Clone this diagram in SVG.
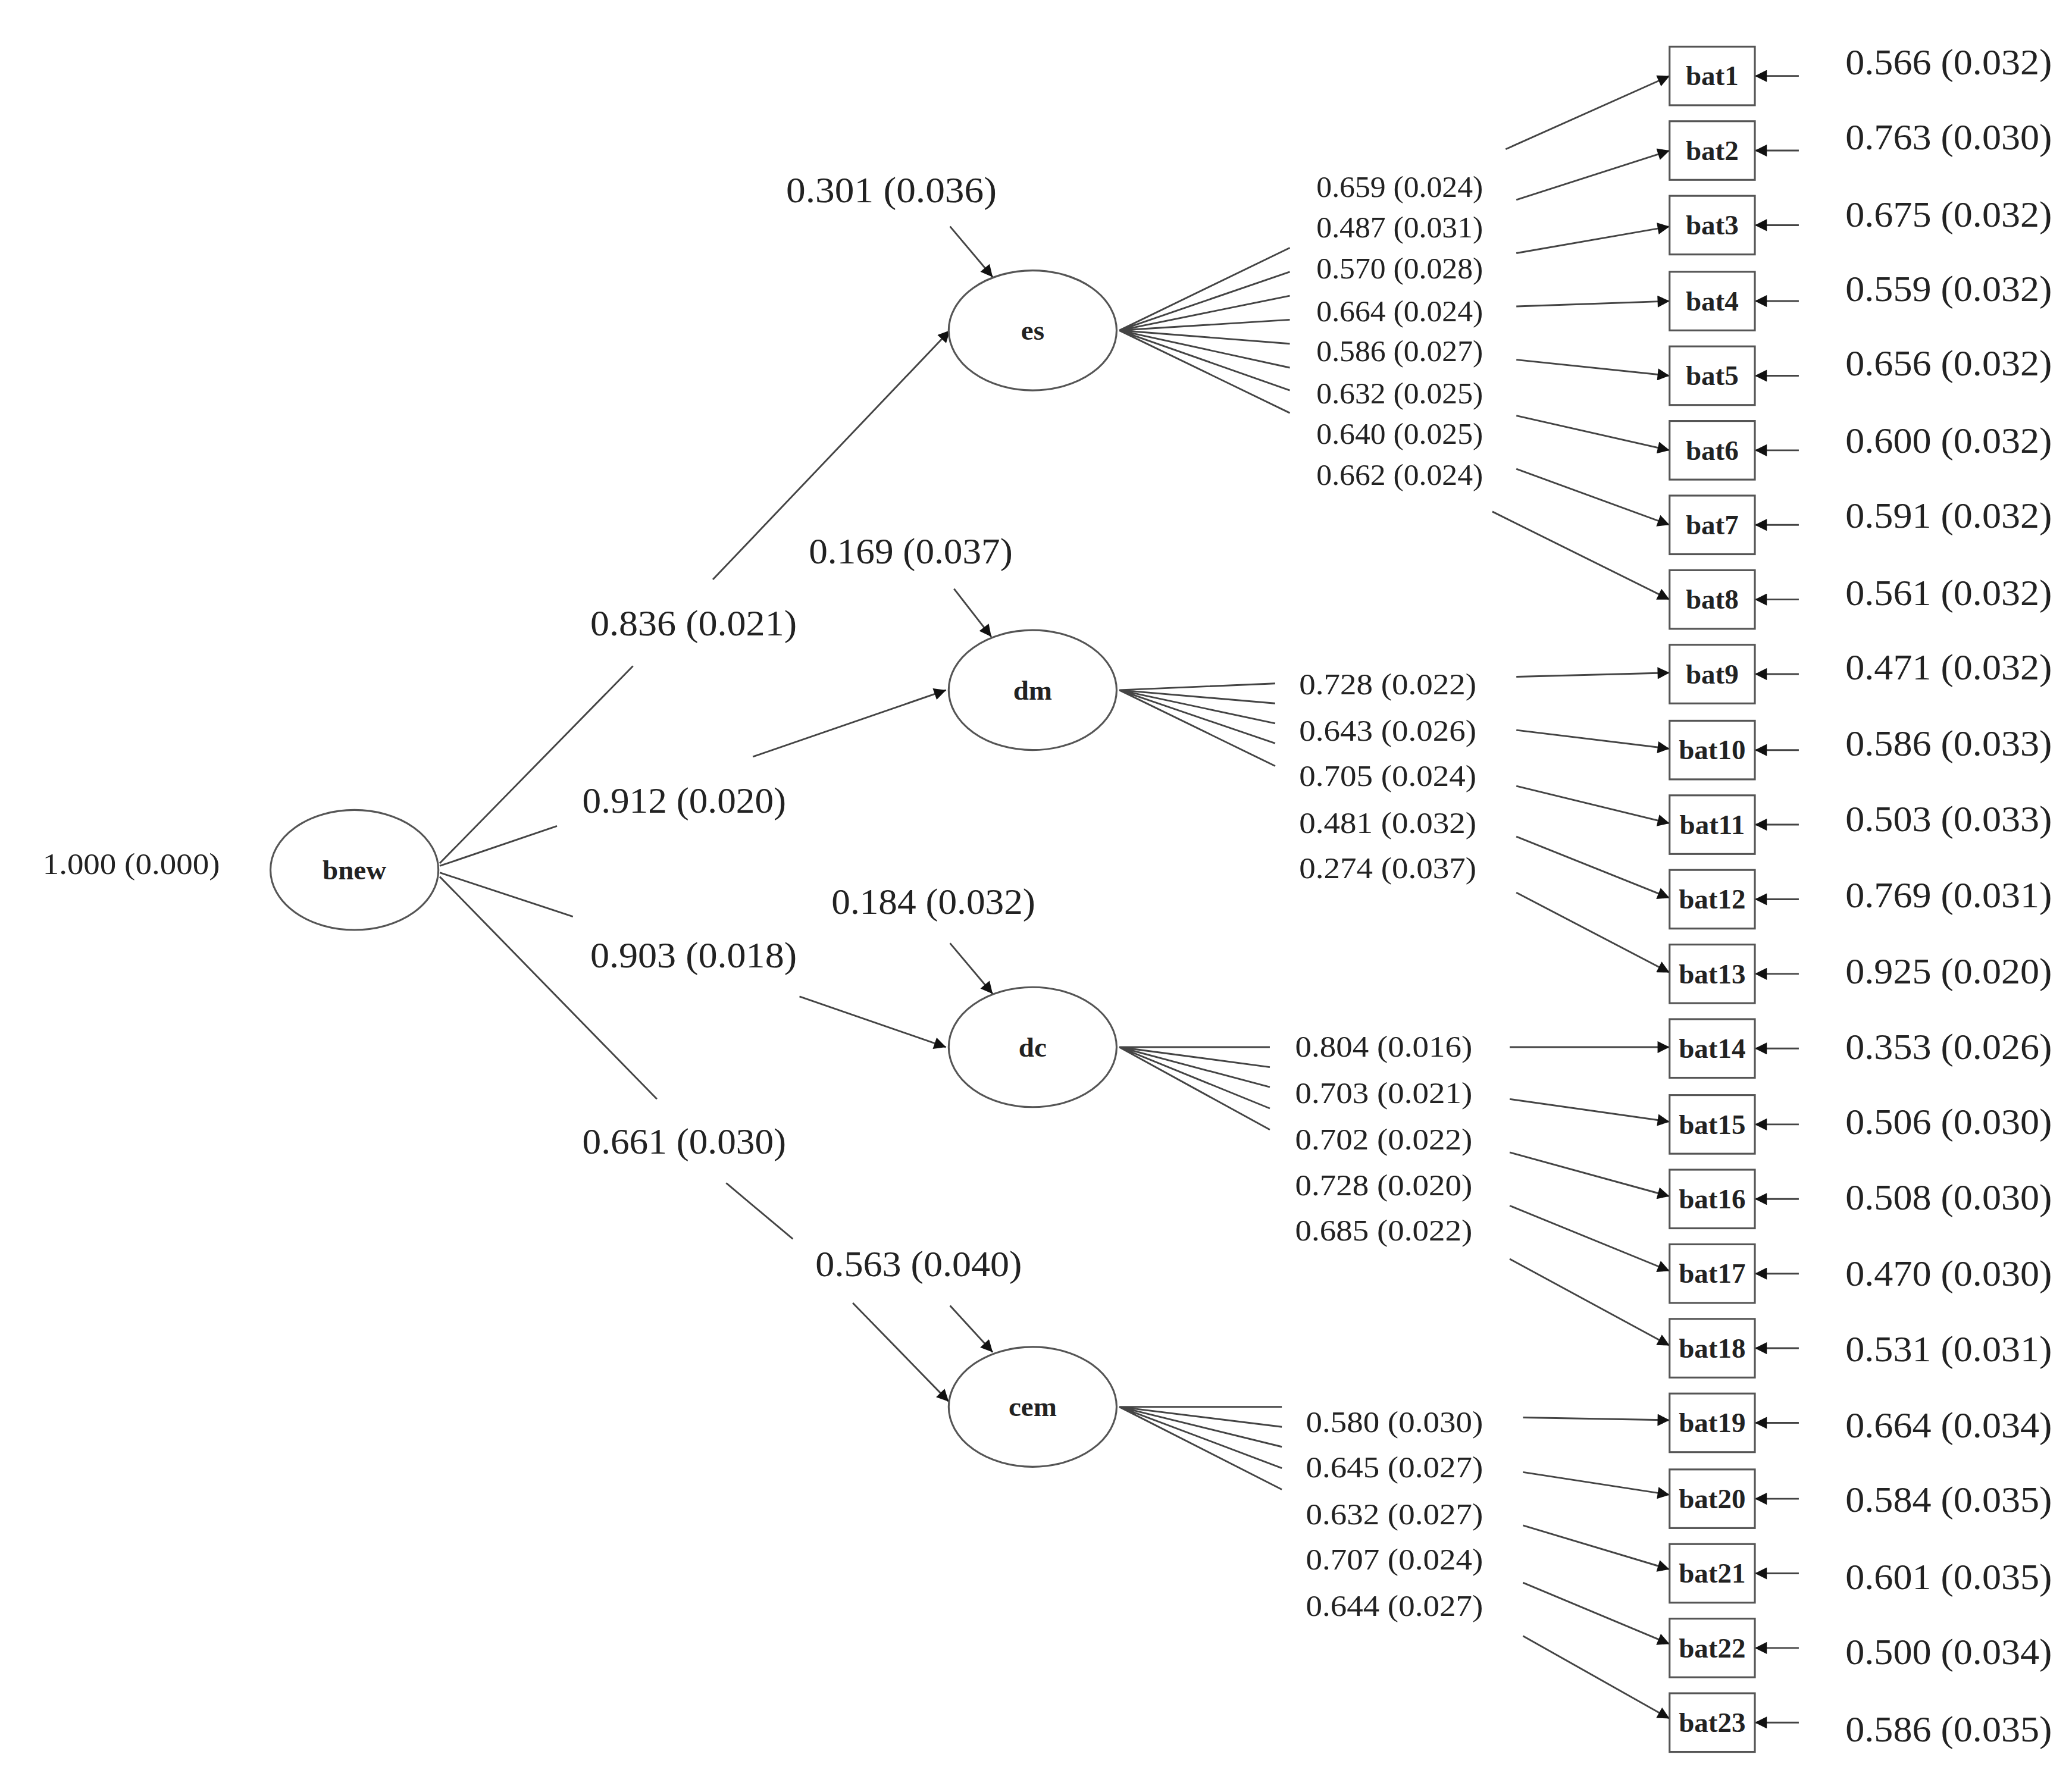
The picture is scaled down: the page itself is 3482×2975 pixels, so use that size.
<svg xmlns="http://www.w3.org/2000/svg" width="3482" height="2975" viewBox="0 0 3482 2975">
<defs>
<marker id="ah" viewBox="0 0 10 10" refX="10" refY="5" markerWidth="13" markerHeight="9" markerUnits="userSpaceOnUse" orient="auto"><path d="M0,0 L10,5 L0,10 z" fill="#111"/></marker>
</defs>
<style>
.c{stroke:#444;stroke-width:1.3;fill:none}
.a{stroke:#444;stroke-width:1.3;fill:none;marker-end:url(#ah)}
.n{fill:#fff;stroke:#555;stroke-width:1.4}
.t{font-family:"Liberation Serif",serif;fill:#222}
.big{font-size:27px}
.sm{font-size:23px}
.nl{font-size:21px;font-weight:bold;text-anchor:middle}
</style>
<rect width="3482" height="2975" fill="#fff"/>
<g transform="scale(2.2392)">
<g id="connectors">
<path class="c" d="M330,648 L475,500"/><path class="a" d="M535,435 L713,248"/>
<path class="c" d="M330,650 L418,620"/><path class="a" d="M565,568 L710,518"/>
<path class="c" d="M330,655 L430,688"/><path class="a" d="M600,748 L710,786"/>
<path class="c" d="M330,658 L493,825"/><path class="c" d="M545,888 L595,930"/><path class="a" d="M640,978 L712,1052"/>
<path class="a" d="M713,170 L745,208"/><path class="a" d="M716,442 L744,478"/><path class="a" d="M713,708 L745,746"/><path class="a" d="M713,980 L745,1015"/>
<path class="c" d="M840,248 L968,186 M840,248 L968,204 M840,248 L968,222 M840,248 L968,240 M840,248 L968,258 M840,248 L968,276 M840,248 L968,293 M840,248 L968,310"/>
<path class="c" d="M840,518 L957,513 M840,518 L957,528 M840,518 L957,543 M840,518 L957,558 M840,518 L957,575"/>
<path class="c" d="M840,786 L953,786 M840,786 L953,801 M840,786 L953,816 M840,786 L953,832 M840,786 L953,848"/>
<path class="c" d="M840,1056 L962,1056 M840,1056 L962,1071 M840,1056 L962,1086 M840,1056 L962,1102 M840,1056 L962,1118"/>
<path class="a" d="M1130,112 L1253,57"/><path class="a" d="M1138,150 L1253,113"/><path class="a" d="M1138,190 L1253,170"/><path class="a" d="M1138,230 L1253,226"/><path class="a" d="M1138,270 L1253,282"/><path class="a" d="M1138,312 L1253,338"/><path class="a" d="M1138,352 L1253,394"/><path class="a" d="M1120,384 L1253,450"/>
<path class="a" d="M1138,508 L1253,505"/><path class="a" d="M1138,548 L1253,562"/><path class="a" d="M1138,590 L1253,618"/><path class="a" d="M1138,628 L1253,674"/><path class="a" d="M1138,670 L1253,730"/>
<path class="a" d="M1133,786 L1253,786"/><path class="a" d="M1133,825 L1253,842"/><path class="a" d="M1133,865 L1253,898"/><path class="a" d="M1133,905 L1253,954"/><path class="a" d="M1133,945 L1253,1010"/>
<path class="a" d="M1143,1064 L1253,1066"/><path class="a" d="M1143,1105 L1253,1122"/><path class="a" d="M1143,1145 L1253,1178"/><path class="a" d="M1143,1188 L1253,1234"/><path class="a" d="M1143,1228 L1253,1290"/>
<path class="a" d="M1350,57 L1317,57"/><path class="a" d="M1350,113 L1317,113"/><path class="a" d="M1350,169 L1317,169"/><path class="a" d="M1350,226 L1317,226"/><path class="a" d="M1350,282 L1317,282"/><path class="a" d="M1350,338 L1317,338"/><path class="a" d="M1350,394 L1317,394"/><path class="a" d="M1350,450 L1317,450"/><path class="a" d="M1350,506 L1317,506"/><path class="a" d="M1350,563 L1317,563"/><path class="a" d="M1350,619 L1317,619"/><path class="a" d="M1350,675 L1317,675"/><path class="a" d="M1350,731 L1317,731"/><path class="a" d="M1350,787 L1317,787"/><path class="a" d="M1350,844 L1317,844"/><path class="a" d="M1350,900 L1317,900"/><path class="a" d="M1350,956 L1317,956"/><path class="a" d="M1350,1012 L1317,1012"/><path class="a" d="M1350,1068 L1317,1068"/><path class="a" d="M1350,1125 L1317,1125"/><path class="a" d="M1350,1181 L1317,1181"/><path class="a" d="M1350,1237 L1317,1237"/><path class="a" d="M1350,1293 L1317,1293"/>
</g>
<g id="latent">
<g id="bnew"><ellipse class="n" cx="266" cy="653" rx="63" ry="45"/><text class="t nl" x="266" y="660">bnew</text></g>
<g id="es"><ellipse class="n" cx="775" cy="248" rx="63" ry="45"/><text class="t nl" x="775" y="255">es</text></g>
<g id="dm"><ellipse class="n" cx="775" cy="518" rx="63" ry="45"/><text class="t nl" x="775" y="525">dm</text></g>
<g id="dc"><ellipse class="n" cx="775" cy="786" rx="63" ry="45"/><text class="t nl" x="775" y="793">dc</text></g>
<g id="cem"><ellipse class="n" cx="775" cy="1056" rx="63" ry="45"/><text class="t nl" x="775" y="1063">cem</text></g>
</g>
<g id="items">
<g id="bat1"><rect class="n" x="1253" y="35" width="64" height="44"/><text class="t nl" x="1285" y="64">bat1</text></g>
<g id="bat2"><rect class="n" x="1253" y="91" width="64" height="44"/><text class="t nl" x="1285" y="120">bat2</text></g>
<g id="bat3"><rect class="n" x="1253" y="147" width="64" height="44"/><text class="t nl" x="1285" y="176">bat3</text></g>
<g id="bat4"><rect class="n" x="1253" y="204" width="64" height="44"/><text class="t nl" x="1285" y="233">bat4</text></g>
<g id="bat5"><rect class="n" x="1253" y="260" width="64" height="44"/><text class="t nl" x="1285" y="289">bat5</text></g>
<g id="bat6"><rect class="n" x="1253" y="316" width="64" height="44"/><text class="t nl" x="1285" y="345">bat6</text></g>
<g id="bat7"><rect class="n" x="1253" y="372" width="64" height="44"/><text class="t nl" x="1285" y="401">bat7</text></g>
<g id="bat8"><rect class="n" x="1253" y="428" width="64" height="44"/><text class="t nl" x="1285" y="457">bat8</text></g>
<g id="bat9"><rect class="n" x="1253" y="484" width="64" height="44"/><text class="t nl" x="1285" y="513">bat9</text></g>
<g id="bat10"><rect class="n" x="1253" y="541" width="64" height="44"/><text class="t nl" x="1285" y="570">bat10</text></g>
<g id="bat11"><rect class="n" x="1253" y="597" width="64" height="44"/><text class="t nl" x="1285" y="626">bat11</text></g>
<g id="bat12"><rect class="n" x="1253" y="653" width="64" height="44"/><text class="t nl" x="1285" y="682">bat12</text></g>
<g id="bat13"><rect class="n" x="1253" y="709" width="64" height="44"/><text class="t nl" x="1285" y="738">bat13</text></g>
<g id="bat14"><rect class="n" x="1253" y="765" width="64" height="44"/><text class="t nl" x="1285" y="794">bat14</text></g>
<g id="bat15"><rect class="n" x="1253" y="822" width="64" height="44"/><text class="t nl" x="1285" y="851">bat15</text></g>
<g id="bat16"><rect class="n" x="1253" y="878" width="64" height="44"/><text class="t nl" x="1285" y="907">bat16</text></g>
<g id="bat17"><rect class="n" x="1253" y="934" width="64" height="44"/><text class="t nl" x="1285" y="963">bat17</text></g>
<g id="bat18"><rect class="n" x="1253" y="990" width="64" height="44"/><text class="t nl" x="1285" y="1019">bat18</text></g>
<g id="bat19"><rect class="n" x="1253" y="1046" width="64" height="44"/><text class="t nl" x="1285" y="1075">bat19</text></g>
<g id="bat20"><rect class="n" x="1253" y="1103" width="64" height="44"/><text class="t nl" x="1285" y="1132">bat20</text></g>
<g id="bat21"><rect class="n" x="1253" y="1159" width="64" height="44"/><text class="t nl" x="1285" y="1188">bat21</text></g>
<g id="bat22"><rect class="n" x="1253" y="1215" width="64" height="44"/><text class="t nl" x="1285" y="1244">bat22</text></g>
<g id="bat23"><rect class="n" x="1253" y="1271" width="64" height="44"/><text class="t nl" x="1285" y="1300">bat23</text></g>
</g>
<g id="labels" class="t">
<text class="sm" x="32" y="656" textLength="133" lengthAdjust="spacingAndGlyphs">1.000  (0.000)</text>
<g class="big">
<text x="443" y="477" textLength="155" lengthAdjust="spacingAndGlyphs">0.836 (0.021)</text>
<text x="437" y="610" textLength="153" lengthAdjust="spacingAndGlyphs">0.912 (0.020)</text>
<text x="443" y="726" textLength="155" lengthAdjust="spacingAndGlyphs">0.903 (0.018)</text>
<text x="437" y="866" textLength="153" lengthAdjust="spacingAndGlyphs">0.661 (0.030)</text>
<text x="590" y="152" textLength="158" lengthAdjust="spacingAndGlyphs">0.301 (0.036)</text>
<text x="607" y="423" textLength="153" lengthAdjust="spacingAndGlyphs">0.169 (0.037)</text>
<text x="624" y="686" textLength="153" lengthAdjust="spacingAndGlyphs">0.184 (0.032)</text>
<text x="612" y="958" textLength="155" lengthAdjust="spacingAndGlyphs">0.563 (0.040)</text>
</g>
<g class="sm">
<text x="988" y="148" textLength="125" lengthAdjust="spacingAndGlyphs">0.659 (0.024)</text>
<text x="988" y="178" textLength="125" lengthAdjust="spacingAndGlyphs">0.487 (0.031)</text>
<text x="988" y="209" textLength="125" lengthAdjust="spacingAndGlyphs">0.570 (0.028)</text>
<text x="988" y="241" textLength="125" lengthAdjust="spacingAndGlyphs">0.664 (0.024)</text>
<text x="988" y="271" textLength="125" lengthAdjust="spacingAndGlyphs">0.586 (0.027)</text>
<text x="988" y="303" textLength="125" lengthAdjust="spacingAndGlyphs">0.632 (0.025)</text>
<text x="988" y="333" textLength="125" lengthAdjust="spacingAndGlyphs">0.640 (0.025)</text>
<text x="988" y="364" textLength="125" lengthAdjust="spacingAndGlyphs">0.662 (0.024)</text>
<text x="975" y="521" textLength="133" lengthAdjust="spacingAndGlyphs">0.728  (0.022)</text>
<text x="975" y="556" textLength="133" lengthAdjust="spacingAndGlyphs">0.643  (0.026)</text>
<text x="975" y="590" textLength="133" lengthAdjust="spacingAndGlyphs">0.705  (0.024)</text>
<text x="975" y="625" textLength="133" lengthAdjust="spacingAndGlyphs">0.481  (0.032)</text>
<text x="975" y="659" textLength="133" lengthAdjust="spacingAndGlyphs">0.274  (0.037)</text>
<text x="972" y="793" textLength="133" lengthAdjust="spacingAndGlyphs">0.804  (0.016)</text>
<text x="972" y="828" textLength="133" lengthAdjust="spacingAndGlyphs">0.703  (0.021)</text>
<text x="972" y="863" textLength="133" lengthAdjust="spacingAndGlyphs">0.702  (0.022)</text>
<text x="972" y="897" textLength="133" lengthAdjust="spacingAndGlyphs">0.728  (0.020)</text>
<text x="972" y="931" textLength="133" lengthAdjust="spacingAndGlyphs">0.685  (0.022)</text>
<text x="980" y="1075" textLength="133" lengthAdjust="spacingAndGlyphs">0.580  (0.030)</text>
<text x="980" y="1109" textLength="133" lengthAdjust="spacingAndGlyphs">0.645  (0.027)</text>
<text x="980" y="1144" textLength="133" lengthAdjust="spacingAndGlyphs">0.632  (0.027)</text>
<text x="980" y="1178" textLength="133" lengthAdjust="spacingAndGlyphs">0.707  (0.024)</text>
<text x="980" y="1213" textLength="133" lengthAdjust="spacingAndGlyphs">0.644  (0.027)</text>
</g>
<g class="big">
<text x="1385" y="56" textLength="155" lengthAdjust="spacingAndGlyphs">0.566 (0.032)</text>
<text x="1385" y="112" textLength="155" lengthAdjust="spacingAndGlyphs">0.763 (0.030)</text>
<text x="1385" y="170" textLength="155" lengthAdjust="spacingAndGlyphs">0.675 (0.032)</text>
<text x="1385" y="226" textLength="155" lengthAdjust="spacingAndGlyphs">0.559 (0.032)</text>
<text x="1385" y="282" textLength="155" lengthAdjust="spacingAndGlyphs">0.656 (0.032)</text>
<text x="1385" y="340" textLength="155" lengthAdjust="spacingAndGlyphs">0.600 (0.032)</text>
<text x="1385" y="396" textLength="155" lengthAdjust="spacingAndGlyphs">0.591 (0.032)</text>
<text x="1385" y="454" textLength="155" lengthAdjust="spacingAndGlyphs">0.561 (0.032)</text>
<text x="1385" y="510" textLength="155" lengthAdjust="spacingAndGlyphs">0.471 (0.032)</text>
<text x="1385" y="567" textLength="155" lengthAdjust="spacingAndGlyphs">0.586 (0.033)</text>
<text x="1385" y="624" textLength="155" lengthAdjust="spacingAndGlyphs">0.503 (0.033)</text>
<text x="1385" y="681" textLength="155" lengthAdjust="spacingAndGlyphs">0.769 (0.031)</text>
<text x="1385" y="738" textLength="155" lengthAdjust="spacingAndGlyphs">0.925 (0.020)</text>
<text x="1385" y="795" textLength="155" lengthAdjust="spacingAndGlyphs">0.353 (0.026)</text>
<text x="1385" y="851" textLength="155" lengthAdjust="spacingAndGlyphs">0.506 (0.030)</text>
<text x="1385" y="908" textLength="155" lengthAdjust="spacingAndGlyphs">0.508 (0.030)</text>
<text x="1385" y="965" textLength="155" lengthAdjust="spacingAndGlyphs">0.470 (0.030)</text>
<text x="1385" y="1022" textLength="155" lengthAdjust="spacingAndGlyphs">0.531 (0.031)</text>
<text x="1385" y="1079" textLength="155" lengthAdjust="spacingAndGlyphs">0.664 (0.034)</text>
<text x="1385" y="1135" textLength="155" lengthAdjust="spacingAndGlyphs">0.584 (0.035)</text>
<text x="1385" y="1193" textLength="155" lengthAdjust="spacingAndGlyphs">0.601 (0.035)</text>
<text x="1385" y="1249" textLength="155" lengthAdjust="spacingAndGlyphs">0.500 (0.034)</text>
<text x="1385" y="1307" textLength="155" lengthAdjust="spacingAndGlyphs">0.586 (0.035)</text>
</g>
</g>
</g>
</svg>
